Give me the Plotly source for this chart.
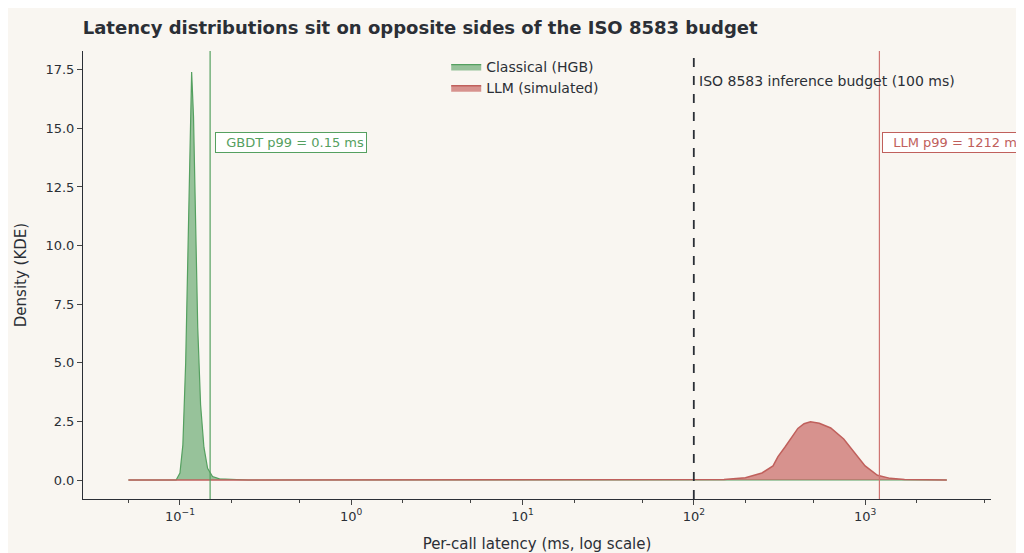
import math
import plotly.graph_objects as go

# KDE curves (latency in ms, density)
hgb_ms = [0.05, 0.095, 0.100, 0.104, 0.108, 0.112, 0.115, 0.117, 0.120, 0.123, 0.127,
          0.132, 0.138, 0.145, 0.155, 0.17, 0.19, 0.25, 3000]
hgb_dens = [0, 0, 0.3, 1.5, 5, 11, 16, 17.4, 15.5, 11, 6.5, 3.2, 1.4, 0.5, 0.15, 0.05, 0.04, 0, 0]

llm_ms = [0.05, 100, 150, 200, 250, 290, 310, 340, 365, 405, 440, 480, 540, 630, 750,
          870, 1000, 1180, 1400, 1700, 2200, 3000]
llm_dens = [0, 0, 0.02, 0.1, 0.3, 0.6, 1.0, 1.4, 1.74, 2.2, 2.4, 2.48, 2.42, 2.22, 1.75,
            1.16, 0.6, 0.2, 0.07, 0.02, 0, 0]

gbdt_p99 = 0.15
llm_p99 = 1212
budget = 100

x_tickvals = [0.1, 1, 10, 100, 1000]
x_ticktext = ["10<sup>−1</sup>", "10<sup>0</sup>", "10<sup>1</sup>", "10<sup>2</sup>", "10<sup>3</sup>"]

bg = "#f9f6f1"
green_line = "#55a060"
red_line = "#c0605c"
ink = "#2b2f36"

fig = go.Figure()
fig.add_trace(go.Scatter(x=hgb_ms, y=hgb_dens, mode="lines", name="Classical (HGB)",
                         fill="tozeroy", fillcolor="rgba(85,160,96,0.6)",
                         line=dict(color=green_line, width=1.2)))
fig.add_trace(go.Scatter(x=llm_ms, y=llm_dens, mode="lines", name="LLM (simulated)",
                         fill="tozeroy", fillcolor="rgba(192,80,77,0.6)",
                         line=dict(color=red_line, width=1.5)))

fig.add_vline(x=gbdt_p99, line=dict(color=green_line, width=1.2))
fig.add_vline(x=llm_p99, line=dict(color="#cf7572", width=1.2))
fig.add_vline(x=budget, line=dict(color=ink, width=1.8, dash="dash"))

fig.add_annotation(x=math.log10(0.16), y=14.4, xref="x", yref="y", xanchor="left", showarrow=False,
                   text="  GBDT p99 = 0.15 ms", font=dict(color=green_line, size=13),
                   bgcolor="white", bordercolor=green_line, borderwidth=1, borderpad=2)
fig.add_annotation(x=math.log10(1260), y=14.4, xref="x", yref="y", xanchor="left", showarrow=False,
                   text="  LLM p99 = 1212 ms", font=dict(color=red_line, size=13),
                   bgcolor="white", bordercolor=red_line, borderwidth=1, borderpad=2)
fig.add_annotation(x=math.log10(104), y=17.0, xref="x", yref="y", xanchor="left", showarrow=False,
                   text="ISO 8583 inference budget (100 ms)", font=dict(color=ink, size=14))

fig.update_layout(
    width=1024, height=553,
    paper_bgcolor=bg, plot_bgcolor=bg,
    font=dict(family="DejaVu Sans", color=ink, size=13),
    title=dict(text="<b>Latency distributions sit on opposite sides of the ISO 8583 budget</b>",
               x=0.073, y=0.965, yanchor="middle", font=dict(size=18)),
    margin=dict(l=75, r=41, t=43, b=60),
    legend=dict(x=0.40, y=1.0, xanchor="left", yanchor="top", bgcolor="rgba(0,0,0,0)",
                font=dict(size=14)),
    xaxis=dict(type="log", range=[-1.566, 3.735], tickvals=x_tickvals, ticktext=x_ticktext,
               showgrid=False, showline=True, linecolor=ink, ticks="outside",
               ticklen=5, minor=dict(ticks="outside", ticklen=3, showgrid=False),
               title=dict(text="Per-call latency (ms, log scale)", font=dict(size=15))),
    yaxis=dict(range=[-0.81, 18.3], tick0=0, dtick=2.5, tickformat=".1f", showgrid=False,
               showline=True, linecolor=ink, ticks="outside", ticklen=5, zeroline=False,
               title=dict(text="Density (KDE)", font=dict(size=15))),
)

fig.write_html("out.html")
